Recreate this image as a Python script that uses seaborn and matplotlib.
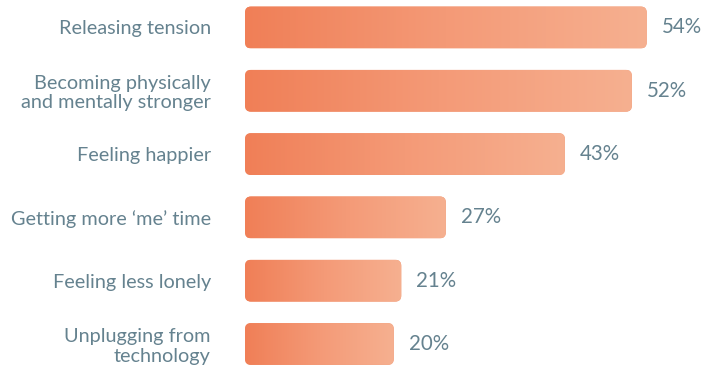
import matplotlib
matplotlib.use("Agg")
import matplotlib.pyplot as plt
import numpy as np
import pandas as pd
import seaborn as sns
from matplotlib.colors import LinearSegmentedColormap
from matplotlib.patches import FancyBboxPatch

reasons = [
    "Releasing tension",
    "Becoming physically\nand mentally stronger",
    "Feeling happier",
    "Getting more \u2018me\u2019 time",
    "Feeling less lonely",
    "Unplugging from\ntechnology",
]
shares = [54, 52, 43, 27, 21, 20]

df = pd.DataFrame({"reason": reasons, "share": shares})

sns.set_theme(style="white")
plt.rcParams["font.family"] = ["Lato", "DejaVu Sans"]

text_color = "#65828f"
px_per_pct = 7.44
fsize = 14.3

fig = plt.figure(figsize=(7.05, 3.69), dpi=100)
ax = fig.add_axes([245 / 705, 0, 460 / 705, 1])

sns.barplot(data=df, x="share", y="reason", color="#f29470", width=0.66,
            ax=ax, saturation=1)

# rounded, gradient-filled bars
grad = LinearSegmentedColormap.from_list("bar", ["#f07f57", "#f49a77", "#f6b090"])
old = list(ax.patches)
for p in old:
    x0, y0, w, h = p.get_x(), p.get_y(), p.get_width(), p.get_height()
    p.remove()
    box = FancyBboxPatch((x0, y0), w, h,
                         boxstyle="round,pad=0,rounding_size=0.8",
                         mutation_aspect=0.12, facecolor="#f29470",
                         edgecolor="none")
    ax.add_patch(box)
    img = ax.imshow(np.linspace(0, 1, 256)[None, :], cmap=grad, aspect="auto",
                    extent=(x0, x0 + w, y0 + h, y0), zorder=2,
                    interpolation="bicubic")
    img.set_clip_path(box)
    ax.text(x0 + w + 15 / px_per_pct, y0 + h / 2, f"{int(w)}%",
            va="center", ha="left", fontsize=fsize + 0.5, fontweight="normal",
            color=text_color)

ax.set_xlim(0, 460 / px_per_pct)
ax.set_ylim(5.395, -0.434)

ax.set_xlabel("")
ax.set_ylabel("")
ax.set_xticks([])
ax.tick_params(axis="y", length=0, pad=24.5)
for lbl in ax.get_yticklabels():
    lbl.set_fontsize(fsize)
    lbl.set_fontweight("normal")
    lbl.set_color(text_color)
    lbl.set_linespacing(1.15)
sns.despine(ax=ax, left=True, bottom=True)

fig.savefig("out.png", dpi=100)
